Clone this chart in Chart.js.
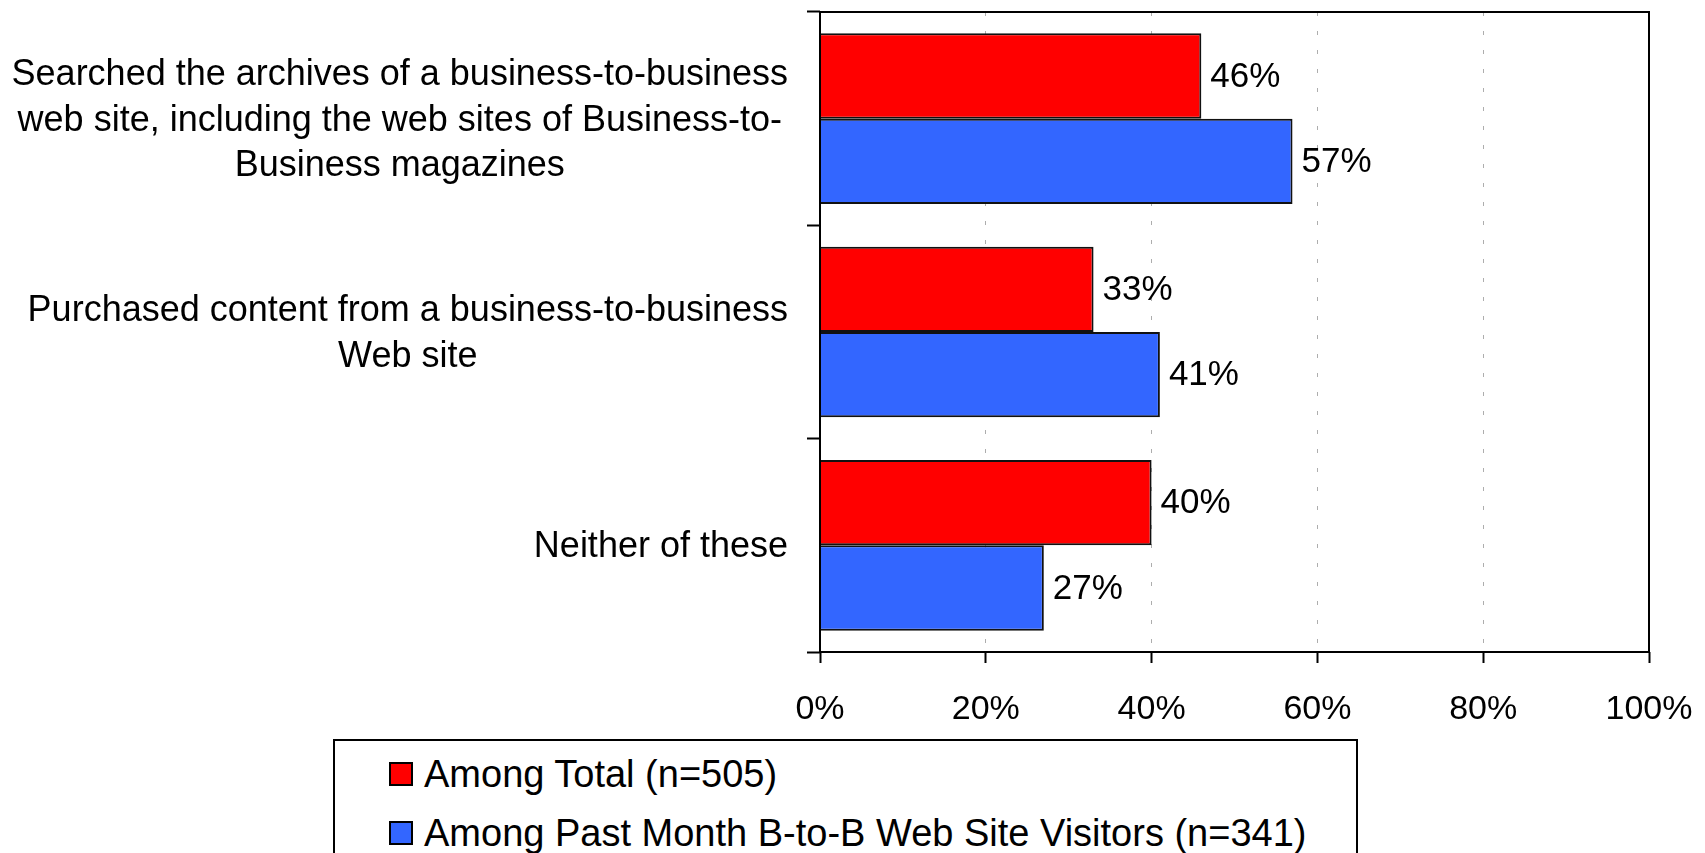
<!DOCTYPE html>
<html>
<head>
<meta charset="utf-8">
<script src="https://cdn.jsdelivr.net/npm/chart.js@4.4.0/dist/chart.umd.min.js"></script>
<style>
    html, body { margin: 0; padding: 0; background: #FFFFFF; overflow: hidden; }
    #wrap { position: relative; width: 1705px; height: 853px; }
    #legendBox {
        position: absolute; left: 333px; top: 739px; width: 1025px; height: 150px;
        border: 2px solid #000000; box-sizing: border-box; background: #FFFFFF;
        font-family: "Liberation Sans", Arial, sans-serif; font-size: 38px; color: #000000;
    }
    .legendItem { position: absolute; left: 54px; height: 44px; display: flex; align-items: center; white-space: nowrap; }
    .swatch { width: 20px; height: 20px; border: 2px solid #000000; margin-right: 11px; }
</style>
</head>
<body>
<div id="wrap">
    <canvas id="chartSurvey" width="1705" height="853"></canvas>
    <div id="legendBox"></div>
</div>
<script>
// Data -----------------------------------------------------------------------
var categories = [
    ['Searched the archives of a business-to-business', 'web site, including the web sites of Business-to-', 'Business magazines'],
    ['Purchased content from a business-to-business', 'Web site'],
    ['Neither of these']
];
var seriesNames = ['Among Total (n=505)', 'Among Past Month B-to-B Web Site Visitors (n=341)'];
var amongTotal = [46, 33, 40];
var amongVisitors = [57, 41, 27];
var xTicks = [0, 20, 40, 60, 80, 100];

// Styles ---------------------------------------------------------------------
var fontFamily = '"Liberation Sans", Arial, sans-serif';
var colors = ['#FF0000', '#3366FF', '#000000', '#ADADAD'];

// Plugins --------------------------------------------------------------------
// value labels at the end of each bar
const valueLabels = {
    id: 'valueLabels',
    afterDatasetsDraw(chart) {
        const ctx = chart.ctx;
        ctx.save();
        ctx.font = '35px ' + fontFamily;
        ctx.fillStyle = colors[2];
        ctx.textAlign = 'left';
        ctx.textBaseline = 'middle';
        chart.data.datasets.forEach(function(ds, d) {
            chart.getDatasetMeta(d).data.forEach(function(bar, i) {
                ctx.fillText(ds.data[i] + '%', bar.x + 9, bar.y + 1);
            });
        });
        ctx.restore();
    }
};

// plot frame and centred category labels
const frameAndLabels = {
    id: 'frameAndLabels',
    afterDraw(chart) {
        const ctx = chart.ctx;
        const area = chart.chartArea;
        const yScale = chart.scales.y;
        ctx.save();
        ctx.strokeStyle = colors[2];
        ctx.lineWidth = 2;
        ctx.strokeRect(area.left, area.top, area.right - area.left, area.bottom - area.top);

        ctx.font = '36px ' + fontFamily;
        ctx.fillStyle = colors[2];
        ctx.textAlign = 'center';
        ctx.textBaseline = 'middle';
        var lineHeight = 45.5;
        var rightEdge = area.left - 32;
        categories.forEach(function(lines, i) {
            var maxW = 0;
            lines.forEach(function(l) { maxW = Math.max(maxW, ctx.measureText(l).width); });
            var cx = rightEdge - maxW / 2;
            var cy = yScale.getPixelForValue(i);
            var y0 = cy - (lines.length - 1) * lineHeight / 2;
            lines.forEach(function(l, k) {
                ctx.fillText(l, cx, y0 + k * lineHeight + 2);
            });
        });
        ctx.restore();
    }
};

// Chart ----------------------------------------------------------------------
const ctx_survey = document.getElementById('chartSurvey').getContext('2d');
const chartSurvey = new Chart(ctx_survey, {
    type: 'bar',
    data: {
        labels: categories.map(function(c) { return c.join(' '); }),
        datasets: [{
            label: seriesNames[0],
            data: amongTotal,
            backgroundColor: colors[0],
            borderColor: '#111111',
            borderWidth: 2,
            barPercentage: 1,
            categoryPercentage: 0.8
        }, {
            label: seriesNames[1],
            data: amongVisitors,
            backgroundColor: colors[1],
            borderColor: '#111111',
            borderWidth: 2,
            barPercentage: 1,
            categoryPercentage: 0.8
        }]
    },
    options: {
        indexAxis: 'y',
        responsive: false,
        devicePixelRatio: 1,
        animation: false,
        layout: {
            padding: { left: 0, top: 12, right: 56, bottom: 131 }
        },
        plugins: {
            legend: { display: false },
            tooltip: { enabled: false }
        },
        scales: {
            x: {
                min: xTicks[0],
                max: xTicks[xTicks.length - 1],
                afterBuildTicks: function(scale) {
                    scale.ticks = xTicks.map(function(v) { return { value: v }; });
                },
                afterFit: function(scale) {
                    scale.height = 70;
                    scale.paddingLeft = 0;
                    scale.paddingRight = 0;
                },
                grid: {
                    color: colors[3],
                    lineWidth: 1,
                    tickLength: 11,
                    tickColor: colors[2],
                    tickWidth: 2,
                    tickBorderDash: []
                },
                border: { display: false, dash: [4, 15] },
                ticks: {
                    color: colors[2],
                    padding: 26,
                    maxRotation: 0,
                    font: { family: fontFamily, size: 34 },
                    callback: function(v) { return v + '%'; }
                }
            },
            y: {
                offset: true,
                afterFit: function(scale) { scale.width = 820; },
                grid: {
                    offset: true,
                    drawOnChartArea: false,
                    tickLength: 13,
                    tickColor: colors[2],
                    tickWidth: 2
                },
                border: { display: false },
                ticks: { display: false }
            }
        }
    },
    plugins: [valueLabels, frameAndLabels]
});

// Legend ---------------------------------------------------------------------
var legendBox = document.getElementById('legendBox');
var legendTops = [11, 70];
seriesNames.forEach(function(name, i) {
    var item = document.createElement('div');
    item.className = 'legendItem';
    item.style.top = legendTops[i] + 'px';
    var swatch = document.createElement('div');
    swatch.className = 'swatch';
    swatch.style.backgroundColor = colors[i];
    var label = document.createElement('span');
    label.textContent = name;
    item.appendChild(swatch);
    item.appendChild(label);
    legendBox.appendChild(item);
});
</script>
</body>
</html>
